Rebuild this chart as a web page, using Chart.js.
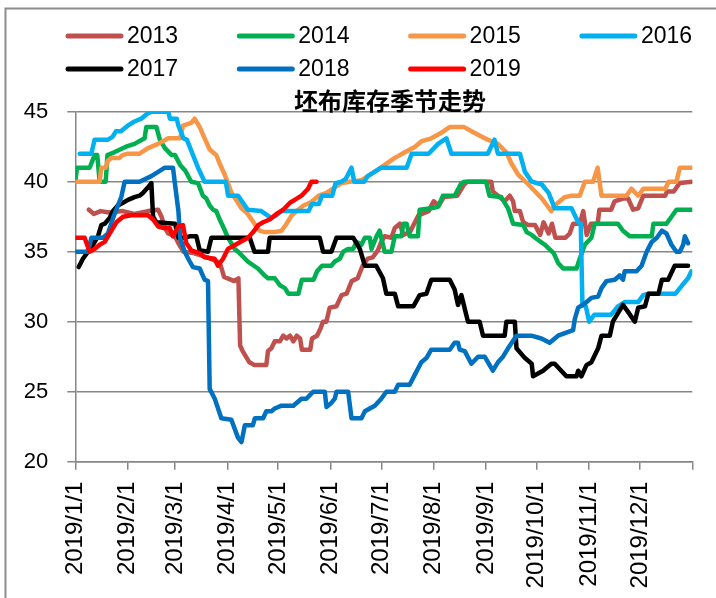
<!DOCTYPE html>
<html>
<head>
<meta charset="utf-8">
<script src="https://cdn.jsdelivr.net/npm/chart.js@4.4.1/dist/chart.umd.min.js"></script>
<style>
  html, body { margin: 0; padding: 0; background: #fff; }
  #wrap { width: 716px; height: 598px; position: relative; }
</style>
</head>
<body>
<div id="wrap"><canvas id="chart" width="716" height="598"></canvas></div>
<script>
// x = day of year (0 = 1/1), y = 坯布库存 (天)
const years = ["2013", "2014", "2015", "2016", "2017", "2018", "2019"];
const colors = ["#C0504D", "#00B050", "#F79646", "#00B0F0", "#000000", "#0070C0", "#FF0000"];
const monthDays = [0, 31, 59, 90, 120, 151, 181, 212, 243, 273, 304, 334, 365];
const monthLabels = ["2019/1/1", "2019/2/1", "2019/3/1", "2019/4/1", "2019/5/1", "2019/6/1",
  "2019/7/1", "2019/8/1", "2019/9/1", "2019/10/1", "2019/11/1", "2019/12/1"];
const yTicks = [20, 25, 30, 35, 40, 45];

const s2013 = [[8,38],[11,37.7],[15,37.9],[20,37.8],[28,37.9],[35,37.7],[43,37.9],[49,38],[51,37.5],[53,36.7],[55,36.3],[59,36.1],[61,35.6],[64,35],[70,34.9],[78,34.6],[84,34.3],[86,34],[88,33.2],[94,32.9],[96.5,33.1],[97.5,28.3],[99,27.9],[103,27.1],[106,26.9],[113,26.9],[114,27.9],[116,28.1],[118,28.6],[121,28.6],[123,29],[125,28.8],[127,29],[129,28.6],[131,29],[133,28.8],[134,28],[139,28],[140,28.8],[143,29],[145,29.5],[146.5,30],[148.5,30],[150.5,31],[154.5,31.1],[157.5,31.9],[160.5,32],[163.5,32.9],[167,33.1],[170,34],[173,34.5],[176,34.6],[179,35.1],[181,35.7],[183,36.1],[187,36],[189,36.7],[192,37],[194,36.2],[198,36.4],[203,37.6],[209,37.9],[212,38.6],[215,38.3],[218,38.9],[226,39],[230,39.8],[232,40],[246,40],[247,39.3],[254,38.6],[257,39],[259,38.6],[260,37.9],[263,37.9],[265,37.1],[268,36.9],[272,36.9],[275,36.2],[277,37.1],[280,36.3],[282,37],[284,36],[290,36],[292.5,36.3],[294.5,37],[298.5,37],[300.5,37.9],[302.5,36.2],[305,37],[309,37],[310,38],[317,38],[319,38.6],[324,38.8],[327,38.8],[330,38],[333,38.1],[336,39],[349,39],[350,39.3],[354,39.3],[357.5,39.9],[365,40]];

const s2014 = [[0,40],[1,41],[8.5,41],[11.4,41.9],[13,41.9],[14.4,40],[18,40],[19,41.9],[23,42.1],[30,42.5],[35,42.7],[41,43.1],[42,43.9],[48,43.9],[50,43],[53,42.4],[57,41.9],[59,41.9],[62,41.2],[65,40.8],[68.6,40],[72.6,39.9],[75.5,39],[77.5,38.8],[79.5,38.3],[81.5,38],[83.4,37.9],[85.4,37.3],[87.4,36.8],[90.3,36],[94.3,35.2],[96.3,35],[102,34.3],[108,33.8],[112,33.3],[114,33.1],[118,33.1],[121,32.6],[124,32.4],[126,32],[132,32],[134,33],[141,33],[143,33.6],[146,34],[151.5,34],[153.5,34.3],[156.5,34.5],[158.5,35],[161.4,35.2],[164.4,35.2],[166.3,35.7],[169.3,35.5],[171.3,36],[174.2,36],[175.2,35.2],[178.2,36.1],[180,36.5],[181,36],[183,35],[187,35],[189,36.1],[193,36.1],[194,37],[196,37],[197.8,36.1],[202.7,36.1],[203.7,38],[210.6,38.1],[214.6,38.2],[217.5,39],[224.4,39],[228.4,39.9],[230.4,40],[243,40],[245,39],[252,38.9],[256,38.1],[259,37],[265,36.9],[267,36.4],[270,36.2],[272,36],[277.7,35.5],[283,34.9],[285.6,34.2],[288.6,33.8],[296.5,33.8],[298.4,34.5],[301.4,35.5],[305.3,36],[307.3,37],[321,37],[324,36.5],[328,36.1],[341,36.1],[342,37],[349.7,37],[352.7,37.5],[355.6,38],[365,38]];

const s2015 = [[0,40],[14.4,40],[15.4,41],[18,41],[19.3,41.5],[21.3,41.7],[26,41.7],[28,41.9],[31,42],[38,42],[43,42.4],[49,42.7],[55,43.1],[62,43.1],[63.7,44],[68.6,44.2],[70.6,44.5],[73.6,43.9],[76.5,43.1],[79.5,42.3],[83.4,41.9],[85.4,41.3],[88.4,40.5],[90.3,39.9],[92.4,39.2],[98.3,38.1],[102,37.7],[106,37],[109,36.5],[112,36.4],[118,36.4],[122,36.5],[125,37],[128,37.6],[131,37.9],[135,38.3],[139,38.5],[144,39],[148.6,39.2],[153.5,39.6],[157.5,39.9],[162.4,40],[169.3,40.1],[173,40.4],[177,40.7],[183,41.2],[189,41.7],[195,42.1],[201,42.5],[205,42.9],[210.6,43.1],[216.6,43.5],[221.5,43.9],[230,43.9],[236,43.5],[244,43],[250,42.7],[255,42.1],[258,41.3],[262,40.5],[268,39.8],[276,38.8],[281.6,37.9],[283.6,38.3],[289.6,38.9],[293.5,39],[298.4,39],[301.4,40],[306.3,40],[309,41],[311.3,39],[326,39],[329,39.5],[333,39],[336,39.5],[349,39.5],[351,40],[355.6,40],[357.6,41],[365,41]];

const s2016 = [[2.6,42],[9.5,42],[11.4,43],[19.3,43],[22,43.2],[24,43.6],[27,43.6],[31,44],[35,44.3],[39,44.5],[43,44.9],[46,45],[55,45],[56,44.5],[60,44.5],[61,44],[64,43.1],[66,43],[69,42.1],[72.6,41],[76.5,40],[89,40],[90.4,39],[96.3,39],[100.3,38.3],[102,38],[110,37.9],[116,37.4],[119,37.6],[122,37.9],[138,37.9],[140,38.4],[144,38.4],[146,39],[152,39],[154,39.9],[157.5,40],[160,40.2],[163.4,41],[165,40],[171,40],[173,40.4],[177,40.7],[181,41],[196,41],[199,42],[209,42],[214.6,42.7],[219.5,43.1],[222.5,42],[244,42],[248,43],[250,42],[263,42],[266,40.7],[270,40],[276,39.8],[280,39.2],[283.6,38.1],[293.5,38.1],[297.5,37.1],[299,37],[300,31.2],[302,31.1],[304,30],[307,30.5],[317,30.5],[321,31.1],[325,31.4],[333,31.4],[336,31.9],[339,32],[355,32],[359,32.6],[362.5,33.1],[364.5,33.6]];

const s2017 = [[2,33.9],[4.5,34.5],[7.5,35],[10.5,35.5],[13.4,36.1],[15.4,36.9],[17.4,37],[20.3,37.4],[22.3,37.9],[25.2,38.3],[28.2,38.5],[31.2,38.7],[35,38.9],[38,39],[40,39.2],[43,39.6],[45,39.9],[46,37.5],[48,37.1],[59,37],[61,36],[64.7,36],[67.7,36.1],[71.6,36.1],[73.6,35.1],[78.5,35],[80.5,36],[103.2,36],[106,35],[114,35],[115,36],[144.6,36],[146.6,35],[151.5,35],[154.5,36],[164.4,36],[168.3,35.2],[171.3,34],[178,34],[182,33.1],[184,32],[189,32],[191,31.1],[200,31.1],[203.7,31.9],[207.7,32],[210.6,33],[221.5,33],[224.4,32.3],[226.4,31.2],[228.4,31.9],[232.3,30],[239.2,30],[241.2,29],[254,29],[255,30],[260,30],[261,28.1],[266,27.4],[270,27],[270.8,26.1],[276.7,26.5],[281.6,27],[283.6,27],[290.5,26.1],[296.5,26.1],[297.5,26.5],[299.4,26.1],[302.4,26.9],[305.3,27.1],[309.3,28.1],[311.3,29],[316.2,29],[318,30],[324,31.2],[327,30.7],[331,30],[333,31],[337,31.1],[339,32],[345,32],[347,33],[350.7,33],[354.6,34],[362.5,34]];

const s2018 = [[0.6,35],[7.5,35],[9.5,36],[16.4,36],[19.3,36.3],[22.3,37.4],[25.2,38.3],[27.2,38.9],[29.2,40],[38,40],[45,40.4],[49,40.7],[53,41],[57.8,41],[59,39.8],[61,37.9],[62,36],[64.7,35],[67.7,34.3],[69.6,33.9],[73.6,33.8],[76.5,33],[78.5,32.9],[79.5,25.2],[82.5,24.5],[86.4,23.1],[92.3,23],[96.3,21.7],[98.3,21.4],[100.3,22.6],[105,22.6],[106.2,23.1],[111.1,23.1],[113,23.6],[116,23.6],[118,23.8],[122,24],[129,24],[133.8,24.5],[136.7,24.5],[140.7,25],[147.6,25],[148.6,23.9],[151.5,24.2],[153.5,24.5],[154.5,25],[161.4,25],[163.4,23.1],[169.3,23.1],[171.3,23.6],[174.2,23.8],[177.2,24],[181,24.5],[184,25],[189,25],[191,25.5],[197.8,25.5],[200.8,26.2],[204.7,27.1],[207.7,27.4],[210.6,28],[221.5,28],[224.4,28.5],[226.4,28.5],[227.4,28],[230.4,27.9],[234.3,27],[238.3,27.5],[242.2,27.5],[247,26.5],[250,27.1],[253,27.5],[256,28.1],[261,29],[269.8,29],[275.7,28.8],[280.6,28.5],[285.6,29],[294.5,29.4],[295.5,30.2],[297.5,31],[301.4,31.3],[305.3,31.7],[309.3,31.8],[311.3,32.4],[314.2,32.9],[319.2,33],[322,33.3],[324,33],[325,33.6],[332,33.6],[335,34],[338,35],[341,35.7],[344,36],[347,36.5],[349.7,36.3],[352.7,35.5],[355.6,35],[357.6,35],[359.6,35.5],[360.6,36.1],[362.5,35.6]];

const s2019 = [[0.6,36],[5.5,36],[8.5,35],[11.4,35.2],[14.4,35.5],[17.4,35.7],[20.3,36.3],[24.3,37.1],[28.2,37.5],[33,37.6],[43,37.6],[46,37.3],[49,36.8],[51.9,36.7],[55.8,36.7],[57.8,36.1],[60.9,36.8],[63.7,36.9],[65.7,35.6],[68.6,35.1],[73.6,34.9],[76.5,34.6],[82.4,34.5],[84.4,34],[87.4,34.5],[90.3,35.2],[96.3,35.6],[102.2,36],[105.2,36.4],[108.2,36.9],[111.1,37.1],[115,37.3],[119,37.7],[123,38],[127,38.5],[129.8,38.7],[133.8,39],[137.7,39.5],[139.7,40],[142.7,40]];

const series = [s2013, s2014, s2015, s2016, s2017, s2018, s2019];
const title = "坯布库存季节走势";

const datasets = series.map((s, i) => ({
  label: years[i],
  data: s.map(p => ({ x: p[0], y: p[1] })),
  borderColor: colors[i],
  backgroundColor: colors[i],
  borderWidth: 4.5,
  pointRadius: 0,
  tension: 0,
  fill: false,
  borderJoinStyle: "round",
  borderCapStyle: "round",
  order: series.length - i
}));

// white background + frame, legend grid and title
const decor = {
  id: "decor",
  beforeDraw(chart) {
    const ctx = chart.ctx;
    ctx.save();
    ctx.fillStyle = "#fff";
    ctx.fillRect(0, 0, chart.width, chart.height);
    ctx.strokeStyle = "#8c8c8c";
    ctx.lineWidth = 2;
    ctx.beginPath();
    ctx.moveTo(5.5, chart.height);
    ctx.lineTo(5.5, 8.5);
    ctx.lineTo(chart.width, 8.5);
    ctx.stroke();
    ctx.restore();
  },
  afterDraw(chart) {
    const ctx = chart.ctx;
    ctx.save();
    ctx.font = '23px "Liberation Sans", Arial, sans-serif';
    ctx.textBaseline = "middle";
    ctx.textAlign = "left";
    years.forEach((yr, i) => {
      const x = 68 + (i % 4) * 171.3;
      const y = 36 + Math.floor(i / 4) * 33;
      ctx.strokeStyle = colors[i];
      ctx.lineWidth = 5;
      ctx.lineCap = "round";
      ctx.beginPath();
      ctx.moveTo(x, y);
      ctx.lineTo(x + 53, y);
      ctx.stroke();
      ctx.fillStyle = "#000";
      ctx.fillText(yr, x + 59, y + 1);
    });
    const a = chart.chartArea;
    ctx.font = 'bold 24px "Noto Sans CJK SC", sans-serif';
    ctx.textAlign = "center";
    ctx.textBaseline = "middle";
    ctx.fillText(title, 390, a.top - 11);
    ctx.restore();
  }
};

new Chart(document.getElementById("chart"), {
  type: "line",
  data: { datasets },
  plugins: [decor],
  options: {
    responsive: false,
    animation: false,
    layout: { padding: { top: 111.7, right: 23.7, bottom: 0, left: 0 } },
    plugins: {
      legend: { display: false },
      title: { display: false },
      tooltip: { enabled: false }
    },
    scales: {
      x: {
        type: "linear",
        min: 0,
        max: 365,
        afterBuildTicks: s => { s.ticks = monthDays.map(v => ({ value: v })); },
        afterFit: s => { s.height = 136.3; s.paddingLeft = 0; s.paddingRight = 0; },
        grid: { drawOnChartArea: false, drawTicks: true, tickLength: 8, color: "#868686", lineWidth: 1.5 },
        border: { color: "#868686", width: 1.5 },
        ticks: {
          autoSkip: false,
          minRotation: 90,
          maxRotation: 90,
          padding: 12,
          color: "#000",
          font: { family: '"Liberation Sans", Arial, sans-serif', size: 24 },
          callback: (v, i) => monthLabels[i] || ""
        }
      },
      y: {
        min: 20,
        max: 45,
        afterBuildTicks: s => { s.ticks = yTicks.map(v => ({ value: v })); },
        afterFit: s => { s.width = 75.3; },
        grid: { color: "#868686", lineWidth: 1.5, tickLength: 8 },
        border: { color: "#868686", width: 1.5 },
        ticks: {
          padding: 19,
          color: "#000",
          font: { family: '"Liberation Sans", Arial, sans-serif', size: 22 }
        }
      }
    }
  }
});
</script>
</body>
</html>
